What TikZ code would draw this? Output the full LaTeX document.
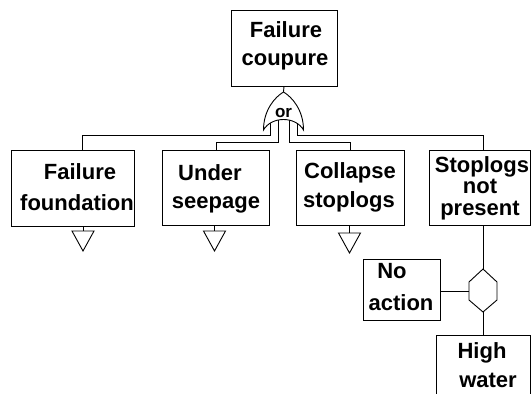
\documentclass[tikz,border=0pt]{standalone}
\usepackage{fontspec}
\setmainfont{Liberation Sans}
\begin{document}
\begin{tikzpicture}[x=1pt,y=-1pt,
  line width=0.9pt,
  box/.style={draw, rectangle, inner sep=0pt, anchor=north west},
  lbl/.style={anchor=base, inner sep=0pt, font=\fontsize{22}{26}\selectfont\bfseries},
  gatelbl/.style={anchor=base, inner sep=0pt, font=\fontsize{17}{20}\selectfont\bfseries},
  transfer/.pic={\draw (-11,0) -- (11,0) -- (0,20) -- cycle;}
]
\useasboundingbox (0,0) rectangle (531,394);

% event boxes
\node[box, minimum width=106pt, minimum height=76pt] (top) at (230.5,10) {};
\node[box, minimum width=123pt, minimum height=76pt] (ff) at (11,150) {};
\node[box, minimum width=107pt, minimum height=75pt] (us) at (162,150) {};
\node[box, minimum width=108pt, minimum height=75pt] (cs) at (296,150) {};
\node[box, minimum width=101pt, minimum height=75pt] (sp) at (429,150) {};
\node[box, minimum width=77pt, minimum height=61pt] (na) at (363,259) {};
\node[box, minimum width=94pt, minimum height=70pt] (hw) at (436,335) {};

% box texts
\node[lbl] (top1) at (286,37) {Failure};
\node[lbl] (top2) at (285,65) {coupure};
\node[lbl] (ff1) at (80,179) {Failure};
\node[lbl] (ff2) at (77,210) {foundation};
\node[lbl] (us1) at (210,180) {Under};
\node[lbl] (us2) at (216,208) {seepage};
\node[lbl] (cs1) at (350,178) {Collapse};
\node[lbl] (cs2) at (349,207) {stoplogs};
\node[lbl] (sp1) at (482,172) {Stoplogs};
\node[lbl] (sp2) at (480,193) {not};
\node[lbl] (sp3) at (480,215) {present};
\node[lbl] (na1) at (392,278) {No};
\node[lbl] (na2) at (401,310) {action};
\node[lbl] (hw1) at (482,358) {High};
\node[lbl] (hw2) at (488,387) {water};

% OR gate: apex and the four input legs
\coordinate (gA) at (283.5,92);
\coordinate (lo) at (270,118);
\coordinate (li) at (278,118);
\coordinate (ri) at (289,118);
\coordinate (ro) at (297,118);

\draw (lo) -- ++(0,17) -| ([xshift=9pt]ff.north);
\draw (li) -- ++(0,24) -| (us.north);
\draw (ri) -- ++(0,24) -| (cs.north);
\draw (ro) -- ++(0,17) -| ([xshift=3.5pt]sp.north);

\draw[fill=white] (263.5,130) .. controls (263.5,110) and (275,97) .. (gA)
  .. controls (292,97) and (303.5,110) .. (303.5,130)
  .. controls (295.5,116) and (271.5,116) .. cycle;
\node[gatelbl] (orl) at (283.5,117) {or};
\draw (top.south) -- (gA);

% transfer triangles under the undeveloped events
\coordinate (t1) at (83,231);
\coordinate (t2) at (214.5,231);
\coordinate (t3) at (349.5,233);
\draw (ff.south -| t1) -- (t1);
\draw (us.south -| t2) -- (t2);
\draw (cs.south -| t3) -- (t3);
\pic at (t1) {transfer};
\pic at (t2) {transfer};
\pic at (t3) {transfer};

% inhibit gate
\coordinate (hT) at (483,269);
\coordinate (hB) at (483,312);
\coordinate (hL) at (469,291);
\draw (hT) -- ++(14,13) -- ++(0,18) -- (hB) -- ++(-14,-12) -- ++(0,-18) -- cycle;
\draw (sp.south -| hT) -- (hT);
\draw (hL) -- (hL -| na.east);
\draw (hB) -- (hB |- hw.north);
\end{tikzpicture}
\end{document}
